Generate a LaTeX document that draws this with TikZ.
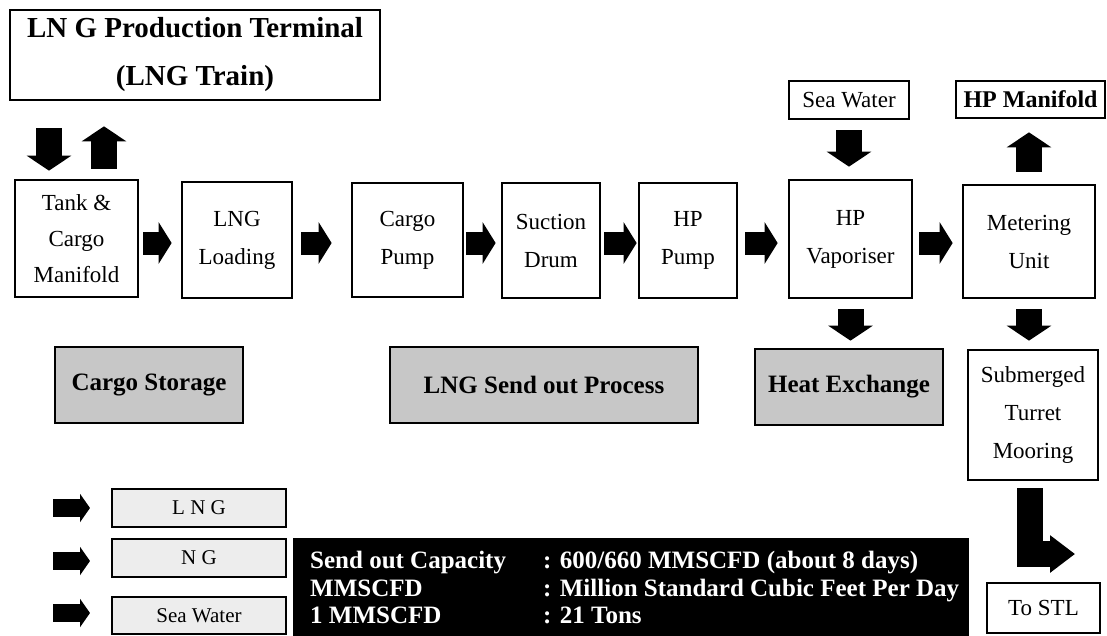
\documentclass[tikz,border=0pt]{standalone}
\usepackage{fontspec}
\setmainfont{Liberation Serif}
\usetikzlibrary{arrows.meta}
\begin{document}
\begin{tikzpicture}[x=1pt,y=-1pt,
  box/.style={draw=black, line width=2.7pt, fill=white, align=center, inner sep=0pt,
    font=\fontsize{23}{38}\selectfont},
  gbox/.style={box, fill=black!22, font=\fontsize{25}{28}\selectfont\bfseries},
  lbox/.style={box, line width=2.2pt, fill=black!7, font=\fontsize{21}{24}\selectfont},
  itext/.style={text=white, inner sep=0pt, anchor=base west, font=\fontsize{25}{28}\selectfont\bfseries},
  flowH/.style={line width=23pt, -{Triangle[length=13pt,width=41pt]}},
  flowV/.style={line width=26pt, -{Triangle[length=15pt,width=44pt]}},
  flowL/.style={line width=26pt, miter limit=10, line join=miter, -{Triangle[length=25pt,width=36pt]}},
  flowS/.style={line width=18pt, -{Triangle[length=10pt,width=28pt]}}
]
\useasboundingbox (0,0) rectangle (1107,635);
\fill[white] (0,0) rectangle (1107,635);

% top
\node[box, minimum width=370pt, minimum height=90pt, font=\fontsize{29}{48}\selectfont\bfseries] (title) at (195,55) {LN G Production Terminal\\(LNG Train)};
\node[box, minimum width=120pt, minimum height=38pt] (seawater) at (849,100) {Sea Water};
\node[box, minimum width=149pt, minimum height=37pt, font=\fontsize{24}{28}\selectfont\bfseries] (hpmanifold) at (1030.5,99.5) {HP Manifold};

% main row
\node[box, minimum width=123pt, minimum height=117pt, font=\fontsize{23}{36}\selectfont] (tank) at (76.5,238.5) {Tank \&\\Cargo\\Manifold};
\node[box, minimum width=110pt, minimum height=116pt] (loading) at (237,240) {LNG\\Loading};
\node[box, minimum width=111pt, minimum height=114pt] (cargopump) at (407.5,240) {Cargo\\Pump};
\node[box, minimum width=98pt, minimum height=115pt] (suction) at (551,240.5) {Suction\\Drum};
\node[box, minimum width=98pt, minimum height=115pt] (hppump) at (688,240.5) {HP\\Pump};
\node[box, minimum width=123pt, minimum height=118pt] (vaporiser) at (850.5,239) {HP\\Vaporiser};
\node[box, minimum width=132pt, minimum height=113pt] (metering) at (1029,241.5) {Metering\\Unit};

% lower row
\node[gbox, minimum width=188pt, minimum height=76pt] (cargostorage) at (149,385) {Cargo Storage};
\node[gbox, minimum width=308pt, minimum height=76pt] (sendout) at (544,385) {LNG Send out Process};
\node[gbox, minimum width=188pt, minimum height=76pt] (heatex) at (849,387) {Heat Exchange};
\node[box, minimum width=130pt, minimum height=130pt] (submerged) at (1033,415) {Submerged\\Turret\\Mooring};
\node[box, minimum width=113pt, minimum height=50pt] (tostl) at (1043.5,608) {To STL};

% legend
\node[lbox, minimum width=174pt, minimum height=38pt] (lglng) at (199,508) {L N G};
\node[lbox, minimum width=174pt, minimum height=38pt] (lgng) at (199,558) {N G};
\node[lbox, minimum width=174pt, minimum height=37pt] (lgsw) at (199,615.5) {Sea Water};

% info box
\node[draw=black, fill=black, minimum width=675pt, minimum height=97pt, inner sep=0pt] (info) at (630.5,586.5) {};
\node[itext] (i1a) at (310,568) {Send out Capacity};
\node[itext] (i1b) at (543,568) {: 600/660 MMSCFD (about 8 days)};
\node[itext] (i2a) at (310,596) {MMSCFD};
\node[itext] (i2b) at (543,596) {: Million Standard Cubic Feet Per Day};
\node[itext] (i3a) at (310,623) {1 MMSCFD};
\node[itext] (i3b) at (543,623) {: 21 Tons};

% connectors
\coordinate (ay) at (0,243);
\coordinate (xa) at (49,0);
\coordinate (xb) at (104,0);
\draw[flowV, shorten <=27pt, shorten >=8pt] (title.south -| xa) -- (tank.north -| xa);
\draw[flowV, shorten <=10pt, shorten >=25pt] (tank.north -| xb) -- (title.south -| xb);

\draw[flowH, shorten <=4pt, shorten >=9pt] (tank.east |- ay) -- (loading.west |- ay);
\draw[flowH, shorten <=8pt, shorten >=19pt] (loading.east |- ay) -- (cargopump.west |- ay);
\draw[flowH, shorten <=2pt, shorten >=5pt] (cargopump.east |- ay) -- (suction.west |- ay);
\draw[flowH, shorten <=3pt, shorten >=1pt] (suction.east |- ay) -- (hppump.west |- ay);
\draw[flowH, shorten <=7pt, shorten >=10pt] (hppump.east |- ay) -- (vaporiser.west |- ay);
\draw[flowH, shorten <=6pt, shorten >=9pt] (vaporiser.east |- ay) -- (metering.west |- ay);

\draw[flowV, shorten <=10pt, shorten >=12pt] (seawater.south) -- (vaporiser.north -| seawater.south);
\draw[flowV, shorten <=12pt, shorten >=13pt] (metering.north) -- (hpmanifold.south -| metering.north);
\draw[flowV, shorten <=10pt, shorten >=7pt] (vaporiser.south) -- (heatex.north -| vaporiser.south);
\draw[flowV, shorten <=10pt, shorten >=8pt] (metering.south) -- (submerged.north -| metering.south);

\coordinate (stl) at (1075,554);
\draw[flowL, shorten <=7pt] ([xshift=-3pt]submerged.south) |- (stl);

\coordinate (s1a) at (53,508); \coordinate (s1b) at (90,508);
\coordinate (s2a) at (53,561); \coordinate (s2b) at (90,561);
\coordinate (s3a) at (53,613); \coordinate (s3b) at (90,613);
\draw[flowS] (s1a) -- (s1b);
\draw[flowS] (s2a) -- (s2b);
\draw[flowS] (s3a) -- (s3b);
\end{tikzpicture}
\end{document}
